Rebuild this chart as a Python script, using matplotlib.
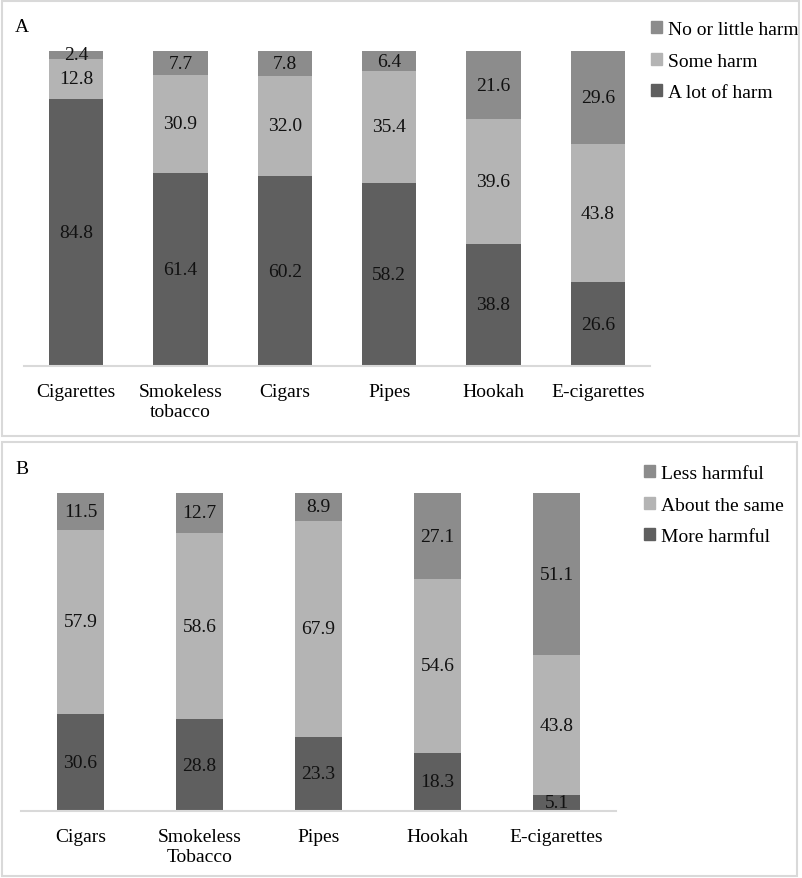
import matplotlib
matplotlib.use('Agg')
import matplotlib.pyplot as plt
from matplotlib.patches import Rectangle, Patch
import numpy as np

plt.rcParams['font.family'] = ['Liberation Serif', 'DejaVu Serif']

# panel A: perceived harm
products_a = ['Cigarettes', 'Smokeless\ntobacco', 'Cigars', 'Pipes', 'Hookah', 'E-cigarettes']
lot_harm = [84.8, 61.4, 60.2, 58.2, 38.8, 26.6]
some_harm = [12.8, 30.9, 32.0, 35.4, 39.6, 43.8]
little_harm = [2.4, 7.7, 7.8, 6.4, 21.6, 29.6]
labels_a = ['A lot of harm', 'Some harm', 'No or little harm']

# panel B: harm compared with cigarettes
products_b = ['Cigars', 'Smokeless\nTobacco', 'Pipes', 'Hookah', 'E-cigarettes']
more_harmful = [30.6, 28.8, 23.3, 18.3, 5.1]
same_harm = [57.9, 58.6, 67.9, 54.6, 43.8]
less_harmful = [11.5, 12.7, 8.9, 27.1, 51.1]
labels_b = ['More harmful', 'About the same', 'Less harmful']

colors = ['#5f5f5f', '#b4b4b4', '#8c8c8c']
W, H = 802, 879

fig = plt.figure(figsize=(W / 100, H / 100), dpi=100)


def px_axes(x0, x1, ytop, ybot):
    return fig.add_axes([x0 / W, 1 - ybot / H, (x1 - x0) / W, (ybot - ytop) / H])


def draw_panel(ax, cats, series, names, width, leg_xy):
    x = np.arange(len(cats))
    bottom = np.zeros(len(cats))
    handles = []
    for vals, col, name in zip(series, colors, names):
        vals = np.array(vals)
        ax.bar(x, vals, width, bottom=bottom, color=col, linewidth=0)
        for xi, b, v in zip(x, bottom, vals):
            ax.text(xi, b + v / 2, '{:.1f}'.format(v), ha='center', va='center',
                    fontsize=14, color='#111111')
        bottom += vals
        handles.append(Patch(color=col, label=name))
    ax.set_xlim(-0.5, len(cats) - 0.5)
    ax.set_ylim(0, 100)
    ax.set_xticks(x)
    ax.set_xticklabels(cats, fontsize=14, linespacing=1.27)
    ax.tick_params(axis='x', length=0, pad=12)
    ax.set_yticks([])
    for s in ['top', 'left', 'right']:
        ax.spines[s].set_visible(False)
    ax.spines['bottom'].set_color('#d9d9d9')
    ax.spines['bottom'].set_linewidth(1.5)
    ax.legend(handles[::-1], names[::-1], loc='upper left',
              bbox_to_anchor=(leg_xy[0] / W, 1 - leg_xy[1] / H),
              bbox_transform=fig.transFigure, frameon=False, fontsize=14,
              handlelength=0.55, handleheight=0.55, handletextpad=0.3,
              labelspacing=0.75, borderaxespad=0, borderpad=0)


ax_a = px_axes(24, 650, 52, 367)
draw_panel(ax_a, products_a, [lot_harm, some_harm, little_harm], labels_a, 0.52, (651, 22))

ax_b = px_axes(21, 616, 494, 812)
draw_panel(ax_b, products_b, [more_harmful, same_harm, less_harmful], labels_b, 0.4, (644, 466))

fig.text(15 / W, 1 - 27 / H, 'A', fontsize=14, va='center')
fig.text(15 / W, 1 - 470 / H, 'B', fontsize=14, va='center')

# panel frames
for y0, y1, x1 in [(2, 437, 799), (443, 877, 797)]:
    fig.patches.append(Rectangle((1.5 / W, 1 - y1 / H), (x1 - 1.5) / W, (y1 - y0) / H,
                                 transform=fig.transFigure, fill=False,
                                 edgecolor='#d9d9d9', linewidth=1.5))

fig.savefig('out.png', dpi=100)
